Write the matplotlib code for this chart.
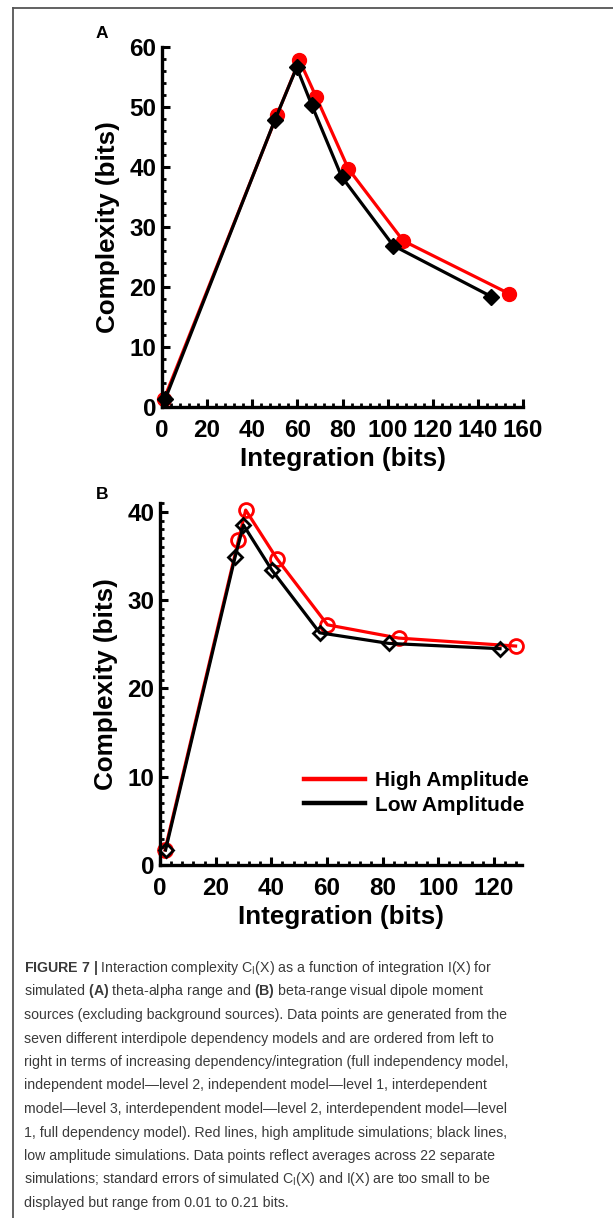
import matplotlib
matplotlib.use("Agg")
import matplotlib.pyplot as plt
from matplotlib.lines import Line2D
from matplotlib.ticker import MultipleLocator
from matplotlib import font_manager

plt.rcParams['font.family'] = 'Liberation Sans'
plt.rcParams['mathtext.fontset'] = 'custom'
plt.rcParams['mathtext.rm'] = 'Liberation Sans'
plt.rcParams['mathtext.bf'] = 'Liberation Sans:bold'
plt.rcParams['mathtext.it'] = 'Liberation Sans:italic'

# Panel A: theta-alpha range
a_high_x = [1.0, 50.9, 60.9, 68.3, 82.6, 106.9, 153.8]
a_high_y = [1.4, 48.6, 57.8, 51.7, 39.7, 27.7, 18.9]
a_low_x = [1.5, 50.1, 59.7, 66.4, 79.6, 102.5, 146.0]
a_low_y = [1.4, 47.9, 56.6, 50.3, 38.4, 26.9, 18.4]

# Panel B: beta range
b_high_x = [1.8, 28.2, 30.8, 42.0, 60.2, 85.8, 127.8]
b_high_y = [1.7, 36.8, 40.2, 34.7, 27.2, 25.7, 24.8]
b_low_x = [2.0, 27.0, 30.0, 40.2, 57.4, 82.2, 122.2]
b_low_y = [1.7, 34.9, 38.5, 33.4, 26.3, 25.1, 24.5]

legend_labels = ['High Amplitude', 'Low Amplitude']

caption_lines = [
    r"$\mathbf{FIGURE\ 7\ |}$ Interaction complexity C$_\mathregular{I}$(X) as a function of integration I(X) for",
    r"simulated $\mathbf{(A)}$ theta-alpha range and $\mathbf{(B)}$ beta-range visual dipole moment",
    "sources (excluding background sources). Data points are generated from the",
    "seven different interdipole dependency models and are ordered from left to",
    "right in terms of increasing dependency/integration (full independency model,",
    "independent model\u2014level 2, independent model\u2014level 1, interdependent",
    "model\u2014level 3, interdependent model\u2014level 2, interdependent model\u2014level",
    "1, full dependency model). Red lines, high amplitude simulations; black lines,",
    "low amplitude simulations. Data points reflect averages across 22 separate",
    r"simulations; standard errors of simulated C$_\mathregular{I}$(X) and I(X) are too small to be",
    "displayed but range from 0.01 to 0.21 bits.",
]

# narrow face for the caption if it is installed
names = {f.name for f in font_manager.fontManager.ttflist}
if 'Liberation Sans Narrow' in names:
    cap_font, cap_size = 'Liberation Sans Narrow', 12.25
else:
    cap_font, cap_size = 'Liberation Sans', 10.2
plt.rcParams['mathtext.rm'] = cap_font
plt.rcParams['mathtext.bf'] = 'Liberation Sans:bold'

W, H = 613, 1218
fig = plt.figure(figsize=(W / 100, H / 100), dpi=100)


def style_axes(ax, xmaj, xmin, ymaj, ymin):
    for s in ['top', 'right']:
        ax.spines[s].set_visible(False)
    for s in ['left', 'bottom']:
        ax.spines[s].set_linewidth(2.4)
    ax.xaxis.set_major_locator(MultipleLocator(xmaj))
    ax.xaxis.set_minor_locator(MultipleLocator(xmin))
    ax.yaxis.set_major_locator(MultipleLocator(ymaj))
    ax.yaxis.set_minor_locator(MultipleLocator(ymin))
    ax.tick_params(which='major', direction='in', length=6, width=2.2,
                   labelsize=17.5, pad=4)
    ax.tick_params(axis='x', which='major', pad=8.5)
    ax.tick_params(which='minor', direction='in', length=3.2, width=2.0)
    for lab in ax.get_xticklabels() + ax.get_yticklabels():
        lab.set_fontweight('bold')
    ax.set_xlabel('Integration (bits)', fontsize=18.7, fontweight='bold', labelpad=4)
    ax.set_ylabel('Complexity (bits)', fontsize=18.7, fontweight='bold', labelpad=7)


# Panel A
axA = fig.add_axes([162 / W, 1 - 407 / H, 361 / W, 360 / H])
axA.plot(a_high_x, a_high_y, color='#ff0000', lw=2.3, marker='o', ms=10,
         mfc='#ff0000', mec='#ff0000', clip_on=False)
axA.plot(a_low_x, a_low_y, color='black', lw=2.3, marker='D', ms=8.5,
         mfc='black', mec='black', clip_on=False)
axA.set_xlim(0, 160)
axA.set_ylim(0, 60)
style_axes(axA, 20, 4, 10, 2)
fig.text(96 / W, 1 - 33 / H, 'A', fontsize=12.5, fontweight='bold', va='center')

# Panel B
axB = fig.add_axes([160 / W, 1 - 865 / H, 361.7 / W, 362 / H])
axB.plot(b_high_x, b_high_y, color='#ff0000', lw=2.3, marker='o', ms=10,
         mfc='none', mec='#ff0000', mew=2.0, clip_on=False)
axB.plot(b_low_x, b_low_y, color='black', lw=2.3, marker='D', ms=7,
         mfc='none', mec='black', mew=2.0, clip_on=False)
axB.set_xlim(0, 130)
axB.set_ylim(0, 41)
style_axes(axB, 20, 4, 10, 1)
fig.text(96 / W, 1 - 494 / H, 'B', fontsize=12.5, fontweight='bold', va='center')

handles = [Line2D([], [], color='#ff0000', lw=3.2),
           Line2D([], [], color='black', lw=3.2)]
axB.legend(handles, legend_labels, loc='upper left',
           bbox_to_anchor=((294 - 160) / 361.7, (865 - 761) / 362),
           frameon=False, borderpad=0, handlelength=2.9, handletextpad=0.5,
           labelspacing=0.25, prop={'weight': 'bold', 'size': 15})

# frame lines (top and left)
fig.add_artist(Line2D([13 / W, 1], [1 - 8 / H, 1 - 8 / H], color='#555555', lw=1.3))
fig.add_artist(Line2D([13 / W, 13 / W], [1 - 8 / H, 0], color='#555555', lw=1.3))

# caption
for i, line in enumerate(caption_lines):
    fig.text(24 / W, 1 - (968 + 23.5 * i) / H, line, fontsize=cap_size,
             family=cap_font, color='#3a3a3a', va='center', ha='left')

fig.savefig('out.png', dpi=100)
